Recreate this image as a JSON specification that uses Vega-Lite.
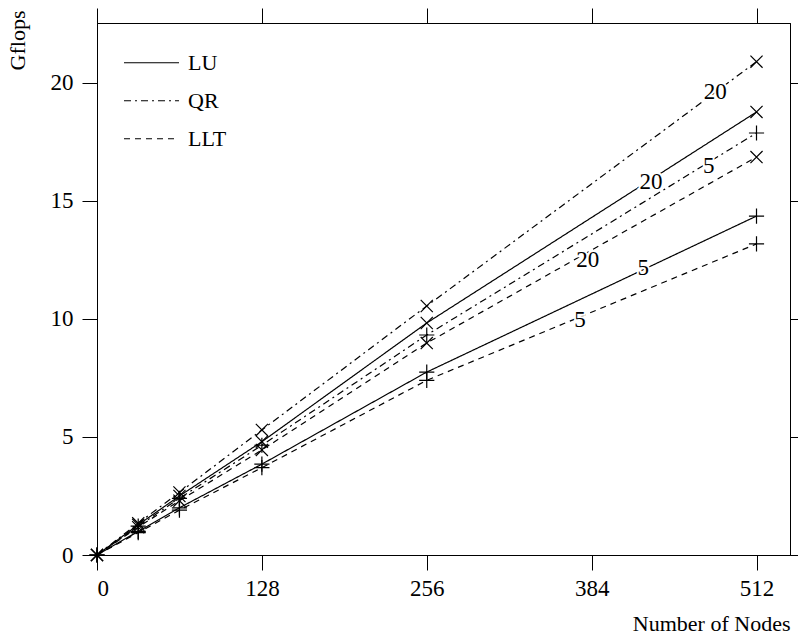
{
  "$schema": "https://vega.github.io/schema/vega-lite/v6.json",
  "width": 693,
  "height": 532,
  "autosize": {"type": "none"},
  "padding": {"left": 97, "top": 23, "right": 8, "bottom": 83},
  "background": "white",
  "config": {
    "view": {"stroke": "black", "strokeWidth": 1},
    "font": "Liberation Serif",
    "axis": {
      "grid": false,
      "domainColor": "black",
      "tickColor": "black",
      "labelColor": "black",
      "titleColor": "black",
      "labelFont": "Liberation Serif",
      "titleFont": "Liberation Serif",
      "labelFontSize": 23,
      "titleFontSize": 22,
      "titleFontWeight": "normal",
      "tickSize": 15,
      "domainWidth": 1,
      "tickWidth": 1
    },
    "legend": {
      "labelFont": "Liberation Serif",
      "labelFontSize": 22,
      "labelColor": "black"
    }
  },
  "datasets": {
    "perf": [
      {"alg": "LU", "blk": "5", "n": 0, "gflops": 0},
      {"alg": "LU", "blk": "5", "n": 32, "gflops": 1.0},
      {"alg": "LU", "blk": "5", "n": 64, "gflops": 2.0},
      {"alg": "LU", "blk": "5", "n": 128, "gflops": 3.85},
      {"alg": "LU", "blk": "5", "n": 256, "gflops": 7.75},
      {"alg": "LU", "blk": "5", "n": 512, "gflops": 14.36},
      {"alg": "LU", "blk": "20", "n": 0, "gflops": 0},
      {"alg": "LU", "blk": "20", "n": 32, "gflops": 1.28},
      {"alg": "LU", "blk": "20", "n": 64, "gflops": 2.5},
      {"alg": "LU", "blk": "20", "n": 128, "gflops": 4.8},
      {"alg": "LU", "blk": "20", "n": 256, "gflops": 9.83},
      {"alg": "LU", "blk": "20", "n": 512, "gflops": 18.77},
      {"alg": "QR", "blk": "5", "n": 0, "gflops": 0},
      {"alg": "QR", "blk": "5", "n": 32, "gflops": 1.22},
      {"alg": "QR", "blk": "5", "n": 64, "gflops": 2.4},
      {"alg": "QR", "blk": "5", "n": 128, "gflops": 4.65},
      {"alg": "QR", "blk": "5", "n": 256, "gflops": 9.32},
      {"alg": "QR", "blk": "5", "n": 512, "gflops": 17.88},
      {"alg": "QR", "blk": "20", "n": 0, "gflops": 0},
      {"alg": "QR", "blk": "20", "n": 32, "gflops": 1.35},
      {"alg": "QR", "blk": "20", "n": 64, "gflops": 2.65},
      {"alg": "QR", "blk": "20", "n": 128, "gflops": 5.3},
      {"alg": "QR", "blk": "20", "n": 256, "gflops": 10.55},
      {"alg": "QR", "blk": "20", "n": 512, "gflops": 20.9},
      {"alg": "LLT", "blk": "5", "n": 0, "gflops": 0},
      {"alg": "LLT", "blk": "5", "n": 32, "gflops": 0.95},
      {"alg": "LLT", "blk": "5", "n": 64, "gflops": 1.9},
      {"alg": "LLT", "blk": "5", "n": 128, "gflops": 3.7},
      {"alg": "LLT", "blk": "5", "n": 256, "gflops": 7.4},
      {"alg": "LLT", "blk": "5", "n": 512, "gflops": 13.18},
      {"alg": "LLT", "blk": "20", "n": 0, "gflops": 0},
      {"alg": "LLT", "blk": "20", "n": 32, "gflops": 1.18},
      {"alg": "LLT", "blk": "20", "n": 64, "gflops": 2.3},
      {"alg": "LLT", "blk": "20", "n": 128, "gflops": 4.45},
      {"alg": "LLT", "blk": "20", "n": 256, "gflops": 8.98},
      {"alg": "LLT", "blk": "20", "n": 512, "gflops": 16.86}
    ],
    "labels": [
      {"alg": "QR", "blk": "20", "n": 480, "gflops": 19.6, "label": "20"},
      {"alg": "LU", "blk": "20", "n": 430, "gflops": 15.8, "label": "20"},
      {"alg": "QR", "blk": "5", "n": 475, "gflops": 16.5, "label": "5"},
      {"alg": "LLT", "blk": "20", "n": 381, "gflops": 12.5, "label": "20"},
      {"alg": "LU", "blk": "5", "n": 424, "gflops": 12.15, "label": "5"},
      {"alg": "LLT", "blk": "5", "n": 375, "gflops": 9.96, "label": "5"}
    ]
  },
  "layer": [
    {
      "data": {"name": "perf"},
      "mark": {"type": "line", "color": "black", "strokeWidth": 1.2, "clip": true},
      "encoding": {
        "x": {
          "field": "n", "type": "quantitative",
          "scale": {"domain": [0, 538], "nice": false, "zero": false},
          "axis": {"orient": "bottom", "values": [0, 128, 256, 384, 512], "title": "Number of Nodes",
                   "labelPadding": 7, "titleAnchor": "end", "titleAlign": "right", "titleX": 693, "titleY": 75,
                   "titleBaseline": "alphabetic"}
        },
        "y": {
          "field": "gflops", "type": "quantitative",
          "scale": {"domain": [0, 22.54], "nice": false, "zero": false},
          "axis": {"orient": "left", "values": [0, 5, 10, 15, 20], "title": "Gflops", "labelPadding": 9,
                   "titleAngle": -90, "titleAnchor": "end", "titleAlign": "right", "titleX": -73, "titleY": -13,
                   "titleBaseline": "alphabetic"}
        },
        "strokeDash": {
          "field": "alg", "type": "nominal",
          "scale": {"domain": ["LU", "QR", "LLT"], "range": [[1, 0], [7, 4, 2, 4], [6, 5]]},
          "legend": {"title": null, "orient": "none", "legendX": 26, "legendY": 21,
                     "symbolType": "stroke", "symbolSize": 3025, "symbolStrokeWidth": 1.2,
                     "symbolStrokeColor": "black", "labelOffset": 8, "rowPadding": 0, "clipHeight": 37.5, "padding": 0}
        },
        "detail": {"field": "blk"}
      }
    },
    {
      "data": {"name": "perf"},
      "mark": {"type": "point", "filled": false, "stroke": "black", "strokeWidth": 1.2, "size": 230, "opacity": 1},
      "encoding": {
        "x": {"field": "n", "type": "quantitative",
              "axis": {"orient": "top", "values": [0, 128, 256, 384, 512], "labels": false, "title": null}},
        "y": {"field": "gflops", "type": "quantitative",
              "axis": {"orient": "right", "values": [0, 5, 10, 15, 20], "labels": false, "title": null}},
        "shape": {
          "field": "blk", "type": "nominal",
          "scale": {"domain": ["5", "20"], "range": ["M-1,0H1M0,-1V1", "M-0.8,-0.8L0.8,0.8M-0.8,0.8L0.8,-0.8"]},
          "legend": null
        }
      }
    },
    {
      "data": {"name": "labels"},
      "mark": {"type": "text", "font": "Liberation Serif", "fontSize": 23, "align": "center", "baseline": "middle",
               "stroke": "white", "strokeWidth": 4, "fill": "white"},
      "encoding": {
        "x": {"field": "n", "type": "quantitative", "axis": null},
        "y": {"field": "gflops", "type": "quantitative", "axis": null},
        "text": {"field": "label"}
      }
    },
    {
      "data": {"name": "labels"},
      "mark": {"type": "text", "font": "Liberation Serif", "fontSize": 23, "align": "center", "baseline": "middle",
               "fill": "black"},
      "encoding": {
        "x": {"field": "n", "type": "quantitative", "axis": null},
        "y": {"field": "gflops", "type": "quantitative", "axis": null},
        "text": {"field": "label"}
      }
    }
  ],
  "resolve": {"axis": {"x": "independent", "y": "independent"}}
}
